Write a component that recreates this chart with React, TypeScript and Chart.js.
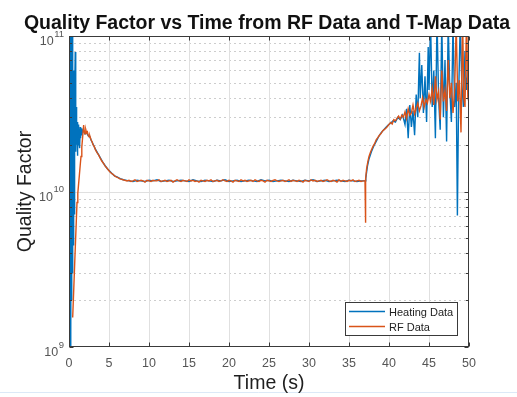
import React, { useEffect, useRef } from "react";
import { Chart, registerables } from "chart.js";

Chart.register(...registerables);

// ---------- text ----------
const titleText = "Quality Factor vs Time from RF Data and T-Map Data";
const xAxisLabel = "Time (s)";
const yAxisLabel = "Quality Factor";
const seriesNames = ["Heating Data", "RF Data"];
const seriesColors = ["#0072BD", "#D95319"];

// ---------- ticks ----------
const xTicks = [0, 5, 10, 15, 20, 25, 30, 35, 40, 45, 50];
const yTickExponents = [9, 10, 11];
const xMin = 0;
const xMax = 50;
const yMin = 1e9;
const yMax = 1e11;

// values below are quality factor in units of 1e10
const Q_UNIT = 1e10;

// ---------- RF Data (orange) ----------
const rfStartT = [
  0.46, 0.6, 0.75, 0.9, 1.0, 1.1, 1.2, 1.3, 1.4, 1.5, 1.6, 1.7, 1.83, 1.9, 2.0, 2.1, 2.2, 2.3, 2.4,
  2.5, 2.6, 2.75, 2.9, 3.0, 3.15, 3.3, 3.5, 3.7, 3.9, 4.1, 4.3, 4.5, 4.7, 4.9, 5.1, 5.3, 5.5, 5.7,
  5.9, 6.1, 6.3, 6.5, 6.75, 7.0,
];
const rfStartQ = [
  0.155, 0.24, 0.39, 0.62, 0.85, 0.97, 1.12, 1.28, 1.47, 1.68, 1.93, 2.22, 2.67, 2.45, 2.35, 2.5,
  2.38, 2.42, 2.3, 2.25, 2.28, 2.15, 2.08, 2.0, 1.95, 1.86, 1.78, 1.72, 1.64, 1.57, 1.52, 1.46,
  1.42, 1.38, 1.34, 1.31, 1.29, 1.26, 1.24, 1.23, 1.21, 1.2, 1.19, 1.18,
];
const rfPlateauStart = 7.25;
const rfPlateauStep = 0.25;
const rfPlateauQ = [
  1.17, 1.18, 1.16, 1.17, 1.19, 1.16, 1.17, 1.18, 1.17, 1.15,
  1.18, 1.17, 1.16, 1.18, 1.17, 1.17, 1.19, 1.16, 1.17, 1.18,
  1.16, 1.17, 1.18, 1.15, 1.17, 1.19, 1.17, 1.16, 1.18, 1.17,
  1.16, 1.19, 1.17, 1.18, 1.16, 1.17, 1.15, 1.18, 1.17, 1.16,
  1.18, 1.17, 1.19, 1.16, 1.17, 1.18, 1.16, 1.17, 1.19, 1.17,
  1.16, 1.18, 1.17, 1.15, 1.18, 1.17, 1.16, 1.19, 1.17, 1.18,
  1.16, 1.17, 1.18, 1.16, 1.19, 1.17, 1.16, 1.18, 1.17, 1.15,
  1.18, 1.17, 1.16, 1.18, 1.19, 1.17, 1.16, 1.17, 1.18, 1.16,
  1.17, 1.19, 1.16, 1.18, 1.17, 1.16, 1.18, 1.17, 1.15, 1.18,
  1.17, 1.16, 1.19, 1.17, 1.18, 1.16, 1.17, 1.18, 1.16, 1.17,
  1.19, 1.17, 1.16, 1.18, 1.17, 1.15, 1.19, 1.16, 1.18, 1.17,
  1.16, 1.18, 1.17, 1.19, 1.16, 1.17, 1.18, 1.16, 1.17,
];
const rfEndT = [
  37.0, 37.05, 37.1, 37.2, 37.35, 37.5, 37.65, 37.8, 38.0, 38.2, 38.4, 38.6, 38.8, 39.0, 39.2, 39.4,
  39.6, 39.8, 40.0, 40.2, 40.4, 40.6, 40.8, 41.0, 41.2, 41.4, 41.6, 41.8, 42.0, 42.2, 42.4, 42.6,
  42.8, 43.0, 43.2, 43.4, 43.6, 43.8, 44.0, 44.2, 44.4, 44.6, 44.8, 45.0, 45.2, 45.4, 45.6, 45.8,
  46.0, 46.2, 46.4, 46.6, 46.8, 47.0, 47.2, 47.4, 47.6, 47.8, 48.0, 48.2, 48.4, 48.6, 48.8, 49.0,
  49.2, 49.35, 49.5, 49.7, 49.85, 50.0,
];
const rfEndQ = [
  1.17, 0.63, 1.2, 1.4, 1.55, 1.68, 1.77, 1.85, 1.95, 2.03, 2.15, 2.22, 2.3, 2.36, 2.45, 2.5,
  2.55, 2.62, 2.7, 2.78, 2.72, 2.9, 2.85, 2.95, 3.05, 2.92, 3.1, 3.0, 3.25, 2.95, 3.4, 3.1,
  3.2, 3.6, 3.15, 3.45, 3.7, 3.3, 3.55, 4.0, 3.5, 3.9, 3.7, 4.2, 3.8, 4.6, 3.6, 5.5,
  3.9, 4.4, 2.9, 6.0, 3.8, 4.5, 3.3, 7.0, 4.0, 5.0, 3.2, 4.4, 12, 3.8, 5.2, 2.4,
  13, 4.0, 3.5, 14, 4.2, 4.6,
];

// ---------- Heating Data (blue) ----------
const heatStartT = [
  0.0, 0.04, 0.08, 0.12, 0.16, 0.2, 0.24, 0.28, 0.32, 0.36, 0.4, 0.44, 0.48, 0.52, 0.56, 0.6, 0.65,
  0.7, 0.78, 0.84, 0.9, 0.95, 1.0, 1.05, 1.1, 1.15, 1.2, 1.25, 1.3, 1.35, 1.4, 1.45, 1.5, 1.6, 1.7,
  1.8, 1.9, 2.0, 2.2, 2.4, 2.6, 2.8, 3.0, 3.3, 3.6, 3.9, 4.2, 4.5, 4.8, 5.1, 5.4, 5.7, 6.0, 6.4,
  6.8, 7.2,
];
const heatStartQ = [
  0.1, 12, 0.09, 12, 0.1, 11, 0.12, 12, 0.2, 10, 0.3, 12, 0.5, 6, 0.45, 1.5, 0.72,
  4, 7.9, 1.8, 3.5, 2.0, 2.8, 1.7, 2.6, 2.0, 2.7, 2.1, 2.5, 1.9, 2.6, 2.2, 2.55, 2.3, 2.45,
  2.5, 2.4, 2.35, 2.4, 2.28, 2.25, 2.12, 2.02, 1.87, 1.76, 1.65, 1.55, 1.47, 1.4, 1.35, 1.3, 1.26,
  1.24, 1.21, 1.19, 1.18,
];
const heatPlateauStart = 7.5;
const heatPlateauStep = 0.5;
const heatPlateauQ = [
  1.17, 1.16, 1.18, 1.17, 1.16, 1.18, 1.17, 1.19, 1.16, 1.17,
  1.18, 1.16, 1.17, 1.18, 1.17, 1.16, 1.19, 1.17, 1.16, 1.18,
  1.17, 1.16, 1.18, 1.17, 1.19, 1.16, 1.17, 1.18, 1.16, 1.17,
  1.18, 1.17, 1.16, 1.19, 1.17, 1.18, 1.16, 1.17, 1.18, 1.17,
  1.16, 1.18, 1.17, 1.16, 1.18, 1.17, 1.19, 1.16, 1.17, 1.18,
  1.16, 1.17, 1.18, 1.17, 1.16, 1.18, 1.17, 1.16, 1.17,
];
const heatEndT = [
  37.0, 37.1, 37.3, 37.5, 37.8, 38.1, 38.4, 38.7, 39.0, 39.3, 39.6, 39.9, 40.2, 40.5, 40.8, 41.1,
  41.4, 41.7, 42.0, 42.2, 42.4, 42.6, 42.8, 43.0, 43.2, 43.4, 43.6, 43.7, 43.8, 43.9, 44.1, 44.3,
  44.5, 44.7, 44.9, 45.0, 45.2, 45.4, 45.6, 45.8, 46.0, 46.2, 46.4, 46.6, 46.8, 47.0, 47.2, 47.4,
  47.6, 47.8, 48.0, 48.2, 48.4, 48.55, 48.7, 48.9, 49.1, 49.3, 49.5, 49.7, 49.9, 50.0,
];
const heatEndQ = [
  1.17, 1.22, 1.45, 1.62, 1.8, 1.96, 2.1, 2.25, 2.38, 2.48, 2.58, 2.68, 2.75, 2.85, 2.8, 3.0,
  2.9, 3.1, 2.7, 3.4, 2.2, 3.6, 2.6, 3.3, 2.3, 4.2, 3.0, 5.0, 7.8, 4.0, 6.5, 3.2,
  5.5, 2.8, 8.5, 4.5, 12, 3.5, 6.0, 2.2, 13, 4.0, 2.5, 12, 3.0, 7.0, 2.1, 12,
  4.5, 2.8, 12, 3.5, 5.0, 0.7, 4.0, 12, 5.0, 3.5, 8.0, 4.5, 6.0, 4.6,
];

// ---------- helpers ----------
function toPoints(t: number[], q: number[]) {
  return t.map((x, i) => ({ x, y: q[i] * Q_UNIT }));
}
function plateauPoints(start: number, step: number, q: number[]) {
  return q.map((v, i) => ({ x: start + i * step, y: v * Q_UNIT }));
}

const rfPoints = [
  ...toPoints(rfStartT, rfStartQ),
  ...plateauPoints(rfPlateauStart, rfPlateauStep, rfPlateauQ),
  ...toPoints(rfEndT, rfEndQ),
];
const heatPoints = [
  ...toPoints(heatStartT, heatStartQ),
  ...plateauPoints(heatPlateauStart, heatPlateauStep, heatPlateauQ),
  ...toPoints(heatEndT, heatEndQ),
];

const FONT = "'Liberation Sans', Arial, Helvetica, sans-serif";

const decorPlugin = {
  id: "decor",
  beforeDraw(chart: any) {
    const { ctx, width, height } = chart;
    ctx.save();
    ctx.fillStyle = "#ffffff";
    ctx.fillRect(0, 0, width, height);
    // faint line near the bottom of the figure
    ctx.strokeStyle = "#dce9f7";
    ctx.lineWidth = 1;
    ctx.beginPath();
    ctx.moveTo(0, 392.5);
    ctx.lineTo(width, 392.5);
    ctx.stroke();
    ctx.restore();
  },
  beforeDatasetsDraw(chart: any) {
    const { ctx, chartArea: a, scales } = chart;
    const xs = scales.x;
    const ys = scales.y;
    ctx.save();
    ctx.lineWidth = 1;
    // minor dotted grid (log)
    ctx.strokeStyle = "#cdcdcd";
    ctx.setLineDash([2, 3]);
    for (let e = 9; e < 11; e++) {
      for (let m = 2; m <= 9; m++) {
        const py = Math.round(ys.getPixelForValue(m * Math.pow(10, e))) + 0.5;
        ctx.beginPath();
        ctx.moveTo(a.left, py);
        ctx.lineTo(a.right, py);
        ctx.stroke();
      }
    }
    ctx.setLineDash([]);
    // major solid grid
    ctx.strokeStyle = "#e0e0e0";
    xTicks.forEach((t) => {
      if (t === xMin || t === xMax) return;
      const px = Math.round(xs.getPixelForValue(t)) + 0.5;
      ctx.beginPath();
      ctx.moveTo(px, a.top);
      ctx.lineTo(px, a.bottom);
      ctx.stroke();
    });
    yTickExponents.forEach((e) => {
      const v = Math.pow(10, e);
      if (v === yMin || v === yMax) return;
      const py = Math.round(ys.getPixelForValue(v)) + 0.5;
      ctx.beginPath();
      ctx.moveTo(a.left, py);
      ctx.lineTo(a.right, py);
      ctx.stroke();
    });
    ctx.restore();
  },
  afterDatasetsDraw(chart: any) {
    const { ctx, chartArea: a, scales } = chart;
    const xs = scales.x;
    const ys = scales.y;
    ctx.save();
    // axes box
    ctx.strokeStyle = "#3a3a3a";
    ctx.lineWidth = 1;
    const L = Math.round(a.left) + 0.5;
    const R = Math.round(a.right) - 0.5;
    const T = Math.round(a.top) + 0.5;
    const B = Math.round(a.bottom) - 0.5;
    ctx.strokeRect(L, T, R - L, B - T);
    // x ticks
    xTicks.forEach((t) => {
      const px = Math.round(xs.getPixelForValue(t)) + 0.5;
      ctx.beginPath();
      ctx.moveTo(px, B);
      ctx.lineTo(px, B - 4);
      ctx.moveTo(px, T);
      ctx.lineTo(px, T + 4);
      ctx.stroke();
    });
    // y ticks (major + minor)
    for (let e = 9; e <= 11; e++) {
      for (let m = 1; m <= 9; m++) {
        if (e === 11 && m > 1) break;
        const py = Math.round(ys.getPixelForValue(m * Math.pow(10, e))) + 0.5;
        const len = m === 1 ? 4 : 2.5;
        ctx.beginPath();
        ctx.moveTo(L, py);
        ctx.lineTo(L + len, py);
        ctx.moveTo(R, py);
        ctx.lineTo(R - len, py);
        ctx.stroke();
      }
    }
    // x tick labels
    ctx.fillStyle = "#555555";
    ctx.font = `12.5px ${FONT}`;
    ctx.textAlign = "center";
    ctx.textBaseline = "alphabetic";
    xTicks.forEach((t) => {
      const px = xs.getPixelForValue(t);
      ctx.fillText(String(t), px, a.bottom + 19.5);
    });
    // y tick labels with superscripts
    yTickExponents.forEach((e) => {
      const py = ys.getPixelForValue(Math.pow(10, e));
      const exp = String(e);
      ctx.font = `9.5px ${FONT}`;
      const ew = ctx.measureText(exp).width;
      const right = a.left - 5;
      ctx.textAlign = "left";
      ctx.fillText(exp, right - ew, py + 0.5);
      ctx.font = `12.5px ${FONT}`;
      ctx.textAlign = "right";
      ctx.fillText("10", right - ew - 0.5, py + 9);
    });
    // axis labels
    ctx.fillStyle = "#1e1e1e";
    ctx.font = `19.5px ${FONT}`;
    ctx.textAlign = "center";
    ctx.fillText(xAxisLabel, (a.left + a.right) / 2, 389);
    ctx.save();
    ctx.translate(31, (a.top + a.bottom) / 2);
    ctx.rotate(-Math.PI / 2);
    ctx.fillText(yAxisLabel, 0, 0);
    ctx.restore();
    // title
    ctx.fillStyle = "#111111";
    ctx.font = `bold 19.5px ${FONT}`;
    ctx.fillText(titleText, (a.left + a.right) / 2 - 2, 29);
    // legend
    const bx = 345.5, by = 302.5, bw = 112, bh = 33;
    ctx.fillStyle = "#ffffff";
    ctx.fillRect(bx, by, bw, bh);
    ctx.strokeStyle = "#3a3a3a";
    ctx.lineWidth = 1;
    ctx.strokeRect(bx, by, bw, bh);
    const rows = [311.5, 326.5];
    ctx.font = `11px ${FONT}`;
    ctx.textAlign = "left";
    seriesNames.forEach((name, i) => {
      ctx.strokeStyle = seriesColors[i];
      ctx.lineWidth = 1.5;
      ctx.beginPath();
      ctx.moveTo(349, rows[i]);
      ctx.lineTo(385, rows[i]);
      ctx.stroke();
      ctx.fillStyle = "#222222";
      ctx.fillText(name, 389, rows[i] + 4);
    });
    ctx.restore();
  },
};

export default function App() {
  const ref = useRef<HTMLCanvasElement | null>(null);
  useEffect(() => {
    if (!ref.current) return;
    const chart = new Chart(ref.current, {
      type: "line",
      data: {
        datasets: [
          {
            label: seriesNames[1],
            data: rfPoints,
            borderColor: seriesColors[1],
            borderWidth: 1.4,
            pointRadius: 0,
            tension: 0,
            fill: false,
          },
          {
            label: seriesNames[0],
            data: heatPoints,
            borderColor: seriesColors[0],
            borderWidth: 1.4,
            pointRadius: 0,
            tension: 0,
            fill: false,
          },
        ],
      },
      options: {
        animation: false,
        responsive: false,
        maintainAspectRatio: false,
        devicePixelRatio: 1,
        layout: { padding: { left: 69, right: 48, top: 36, bottom: 50 } },
        plugins: {
          legend: { display: false },
          title: { display: false },
          tooltip: { enabled: false },
        },
        events: [],
        scales: {
          x: { type: "linear", min: xMin, max: xMax, display: false },
          y: { type: "logarithmic", min: yMin, max: yMax, display: false },
        },
      },
      plugins: [decorPlugin],
    });
    return () => chart.destroy();
  }, []);
  return (
    <div style={{ position: "fixed", left: 0, top: 0, width: 517, height: 397 }}>
      <canvas ref={ref} width={517} height={397} style={{ display: "block" }} />
    </div>
  );
}
